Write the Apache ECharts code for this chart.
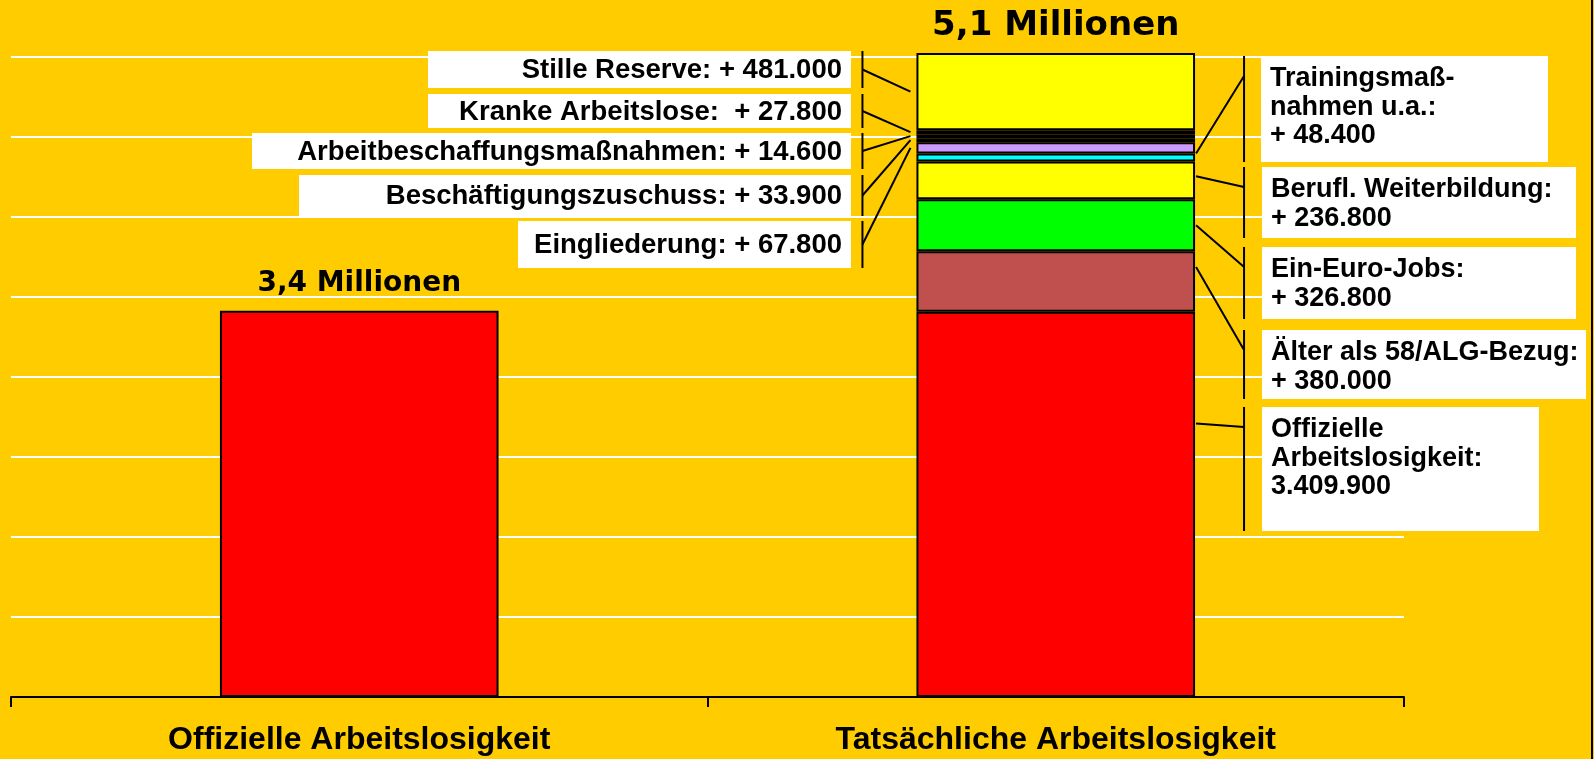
<!DOCTYPE html>
<html style="height: 100%">
<head>
<meta charset="utf-8">
</head>
<body style="height: 100%; margin: 0; background: #FFCC00">
<div id="container" style="width: 1594px; height: 759px"></div>
<script src="https://cdn.jsdelivr.net/npm/echarts@6/dist/echarts.min.js"></script>
<script type="text/javascript">

// categories + headline totals
var categories = ['Offizielle Arbeitslosigkeit', 'Tatsächliche Arbeitslosigkeit'];
var totalLabels = ['3,4 Millionen', '5,1 Millionen'];

// segment heights as drawn (millions), bottom -> top
var offiziell      = [3.38, 3.37];
var aelter58       = ['-', 0.53];
var einEuroJobs    = ['-', 0.455];
var weiterbildung  = ['-', 0.33];
var training       = ['-', 0.07];
var eingliederung  = ['-', 0.10];
var beschZuschuss  = ['-', 0.035];
var abm            = ['-', 0.035];
var kranke         = ['-', 0.035];
var stilleReserve  = ['-', 0.674];

var segNames = ['Offizielle Arbeitslosigkeit', 'Älter als 58/ALG-Bezug', 'Ein-Euro-Jobs', 'Berufl. Weiterbildung',
    'Trainingsmaßnahmen', 'Eingliederung', 'Beschäftigungszuschuss', 'Arbeitbeschaffungsmaßnahmen',
    'Kranke Arbeitslose', 'Stille Reserve'];
var segValues = [offiziell, aelter58, einEuroJobs, weiterbildung, training, eingliederung, beschZuschuss, abm, kranke, stilleReserve];
var segColors = ['#FF0000', '#C0504D', '#00FF00', '#FFFF00', '#00FFFF', '#CC99FF', '#A8A8C8', '#000066', '#FF00FF', '#FFFF00'];

// annotation texts
var leftNoteText = ['Stille Reserve: + 481.000', 'Kranke Arbeitslose:  + 27.800', 'Arbeitbeschaffungsmaßnahmen: + 14.600',
    'Beschäftigungszuschuss: + 33.900', 'Eingliederung: + 67.800'];
var leftNoteSeg = [9, 8, 7, 6, 5];
var rightNoteText = ['Trainingsmaß-\nnahmen u.a.:\n+ 48.400', 'Berufl. Weiterbildung:\n+ 236.800', 'Ein-Euro-Jobs:\n+ 326.800',
    'Älter als 58/ALG-Bezug:\n+ 380.000', 'Offizielle\nArbeitslosigkeit:\n3.409.900'];
var rightNoteSeg = [4, 3, 2, 1, 0];

// layout of the note boxes (px): x1, y1, x2, y2
var leftBoxes = [[428, 51, 851, 88], [428, 94, 851, 128], [252, 133, 851, 169], [299, 175, 851, 216], [518, 221, 851, 268]];
var rightBoxes = [[1261, 56, 1548, 162], [1262, 167, 1576, 238], [1262, 247, 1576, 319], [1262, 330, 1586, 399], [1262, 407, 1539, 531]];
var rightAnchorFrac = [0.0, 0.39, 0.5, 0.26, 0.29];

var FONT = 'Liberation Sans, Arial, sans-serif';

var dom = document.getElementById('container');
var myChart = echarts.init(dom);

var series = [];
for (var i = 0; i < segNames.length; i++) {
    var data = segValues[i].map(function (v) { return v; });
    if (i === 0) {
        data[0] = { value: segValues[i][0], label: { show: true, position: 'top', distance: 13, formatter: totalLabels[0],
            fontFamily: 'DejaVu Sans', fontWeight: 'bold', fontSize: 28, color: '#000' } };
    }
    if (i === segNames.length - 1) {
        data[1] = { value: segValues[i][1], label: { show: true, position: 'top', distance: 10, formatter: totalLabels[1],
            fontFamily: 'DejaVu Sans', fontWeight: 'bold', fontSize: 34, color: '#000' } };
    }
    series.push({
        name: segNames[i],
        type: 'bar',
        stack: 'total',
        barWidth: '40%',
        clip: false,
        data: data,
        itemStyle: { color: segColors[i], borderColor: '#000', borderWidth: 2 }
    });
}

var option = {
    backgroundColor: '#FFCC00',
    animation: false,
    grid: { left: 11, right: 190, top: 57, bottom: 62 },
    xAxis: {
        type: 'category',
        data: categories,
        axisLine: { lineStyle: { color: '#000', width: 2 } },
        axisTick: { show: true, length: 10, lineStyle: { color: '#000', width: 2 } },
        axisLabel: { color: '#000', fontFamily: FONT, fontWeight: 'bold', fontSize: 32, margin: 27 }
    },
    yAxis: {
        type: 'value',
        min: 0,
        max: 5.6,
        interval: 0.7,
        axisLine: { show: false },
        axisTick: { show: false },
        axisLabel: { show: false },
        splitLine: { lineStyle: { color: '#FFFFFF', width: 2 } }
    },
    series: series
};
myChart.setOption(option);

// notes and leader lines, positioned from the bar geometry
function px(cat, val) {
    return myChart.convertToPixel({ xAxisIndex: 0, yAxisIndex: 0 }, [cat, val]);
}
var band = px(1, 0)[0] - px(0, 0)[0];
var barCenter = px(1, 0)[0];
var barLeft = barCenter - band * 0.2;
var barRight = barCenter + band * 0.2;

function segBounds(idx) {
    var below = 0;
    for (var k = 0; k < idx; k++) below += segValues[k][1];
    return [px(1, below)[1], px(1, below + segValues[idx][1])[1]]; // bottom y, top y
}

var graphics = [];
var lineStyle = { stroke: '#000', lineWidth: 2 };
var leftX = barLeft - 54;
var rightX = barRight + 49;

leftNoteText.forEach(function (t, n) {
    var b = leftBoxes[n];
    var sb = segBounds(leftNoteSeg[n]);
    var cy = (b[1] + b[3]) / 2;
    graphics.push({ type: 'rect', z: 50, shape: { x: b[0], y: b[1], width: b[2] - b[0], height: b[3] - b[1] }, style: { fill: '#fff' } });
    graphics.push({ type: 'text', z: 51, style: { text: t, x: b[2] - 9, y: cy + 1, textAlign: 'right', textVerticalAlign: 'middle',
        font: 'bold 27.5px ' + FONT, fill: '#000' } });
    graphics.push({ type: 'line', z: 52, shape: { x1: leftX, y1: b[1], x2: leftX, y2: b[3] }, style: lineStyle });
    graphics.push({ type: 'line', z: 52, shape: { x1: leftX, y1: cy, x2: barLeft - 6, y2: (sb[0] + sb[1]) / 2 }, style: lineStyle });
});

rightNoteText.forEach(function (t, n) {
    var b = rightBoxes[n];
    var sb = segBounds(rightNoteSeg[n]);
    var ay = sb[1] + (sb[0] - sb[1]) * rightAnchorFrac[n];
    graphics.push({ type: 'rect', z: 50, shape: { x: b[0], y: b[1], width: b[2] - b[0], height: b[3] - b[1] }, style: { fill: '#fff' } });
    graphics.push({ type: 'text', z: 51, style: { text: t, x: b[0] + 9, y: b[1] + 23 - 14.25, textAlign: 'left', textVerticalAlign: 'top',
        font: 'bold 27px ' + FONT, lineHeight: 28.5, fill: '#000' } });
    graphics.push({ type: 'line', z: 52, shape: { x1: rightX, y1: b[1], x2: rightX, y2: b[3] }, style: lineStyle });
    graphics.push({ type: 'line', z: 52, shape: { x1: barRight + 1, y1: ay, x2: rightX, y2: b[1] + 20 }, style: lineStyle });
});

// thin frame line on the right edge
graphics.push({ type: 'line', z: 52, shape: { x1: 1592, y1: 0, x2: 1592, y2: 759 }, style: lineStyle });

myChart.setOption({ graphic: graphics });

</script>
</body>
</html>
